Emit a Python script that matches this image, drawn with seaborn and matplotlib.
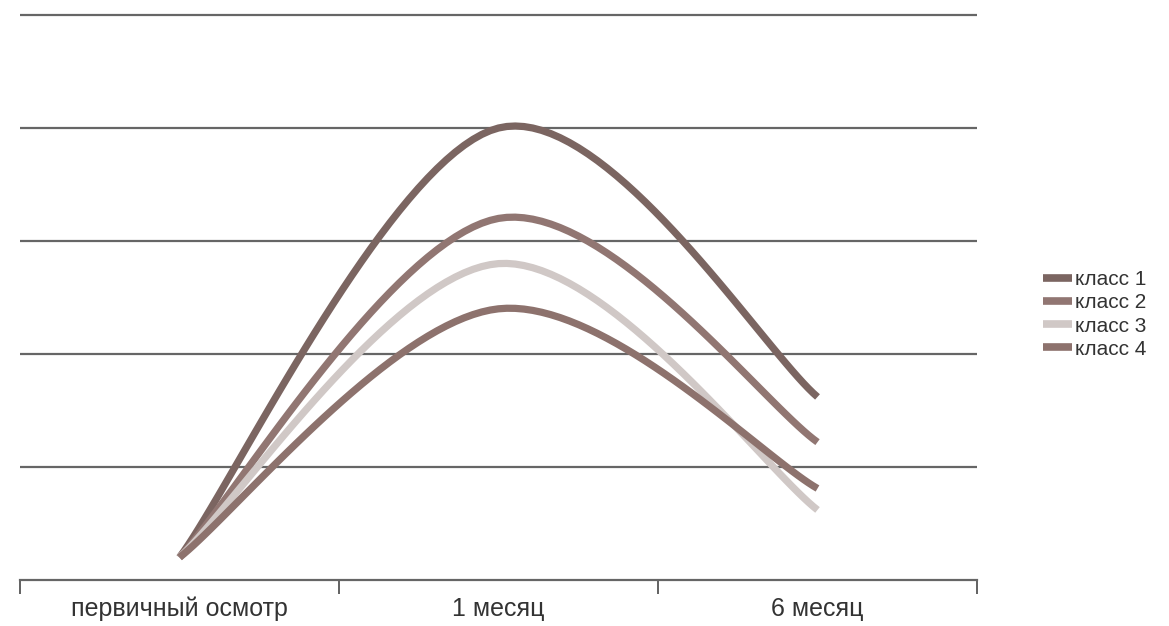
import numpy as np
import pandas as pd
import matplotlib
matplotlib.use("Agg")
import matplotlib.pyplot as plt
import seaborn as sns

# chart data
categories = ["первичный осмотр", "1 месяц", "6 месяц"]
series_names = ["класс 1", "класс 2", "класс 3", "класс 4"]
klass_1 = [0.2, 4.0, 1.62]
klass_2 = [0.2, 3.2, 1.22]
klass_3 = [0.2, 2.8, 0.62]
klass_4 = [0.2, 2.4, 0.81]
colors = ["#7b6561", "#917672", "#d0c8c6", "#8d726d"]


def smooth(xs, ys, n=40):
    # Excel-style bezier smoothing through the points
    pts = np.column_stack([xs, ys]).astype(float)
    out = []
    for i in range(len(pts) - 1):
        p0 = pts[max(i - 1, 0)]
        p1 = pts[i]
        p2 = pts[i + 1]
        p3 = pts[min(i + 2, len(pts) - 1)]
        c1 = p1 + (p2 - p0) / 6
        c2 = p2 - (p3 - p1) / 6
        t = np.linspace(0, 1, n)[:, None]
        seg = ((1 - t) ** 3) * p1 + 3 * ((1 - t) ** 2) * t * c1 + 3 * (1 - t) * t ** 2 * c2 + t ** 3 * p2
        out.append(seg if i == 0 else seg[1:])
    seg = np.vstack(out)
    return seg[:, 0], seg[:, 1]


rows = []
x_idx = np.arange(len(categories))
for name, vals in zip(series_names, [klass_1, klass_2, klass_3, klass_4]):
    sx, sy = smooth(x_idx, vals)
    for a, b in zip(sx, sy):
        rows.append({"x": a, "y": b, "series": name})
df = pd.DataFrame(rows)

sns.set_style("white")
plt.rcParams["font.family"] = ["Liberation Sans", "DejaVu Sans"]

fig = plt.figure(figsize=(11.69, 6.26), dpi=100)
ax = fig.add_axes([20 / 1169, 46 / 626, 957 / 1169, 565 / 626])

for y in [1, 2, 3, 4, 5]:
    ax.axhline(y, color="#666666", lw=1.6, zorder=0, clip_on=False)

sns.lineplot(data=df, x="x", y="y", hue="series", palette=colors, sort=False,
             estimator=None, lw=5.2, ax=ax, legend=True)
for ln in ax.get_lines():
    ln.set_solid_capstyle("butt")

ax.set_xlim(-0.5, 2.5)
ax.set_ylim(0, 5)
ax.set_yticks([])
ax.set_xticks([-0.5, 0.5, 1.5, 2.5])
ax.set_xticklabels([])
ax.set_xticks(x_idx, minor=True)
ax.set_xticklabels(categories, minor=True, fontsize=18, color="#333333")
ax.tick_params(axis="x", which="major", bottom=True, direction="out", length=10, width=1.3, color="#555555")
ax.tick_params(axis="x", which="minor", bottom=True, length=0, pad=12)
ax.set_xlabel("")
ax.set_ylabel("")
for s in ["top", "left", "right"]:
    ax.spines[s].set_visible(False)
ax.spines["bottom"].set_color("#666666")
ax.spines["bottom"].set_linewidth(1.6)

leg = ax.legend(loc="center left", bbox_to_anchor=(1.069, 0.47), frameon=False,
                fontsize=15, handlelength=1.4, handletextpad=0.15, labelspacing=0.2,
                borderaxespad=0, borderpad=0, labelcolor="#333333")
for h in leg.get_lines():
    h.set_linewidth(5.5)
    h.set_solid_capstyle("butt")

fig.savefig("out.png", dpi=100)
